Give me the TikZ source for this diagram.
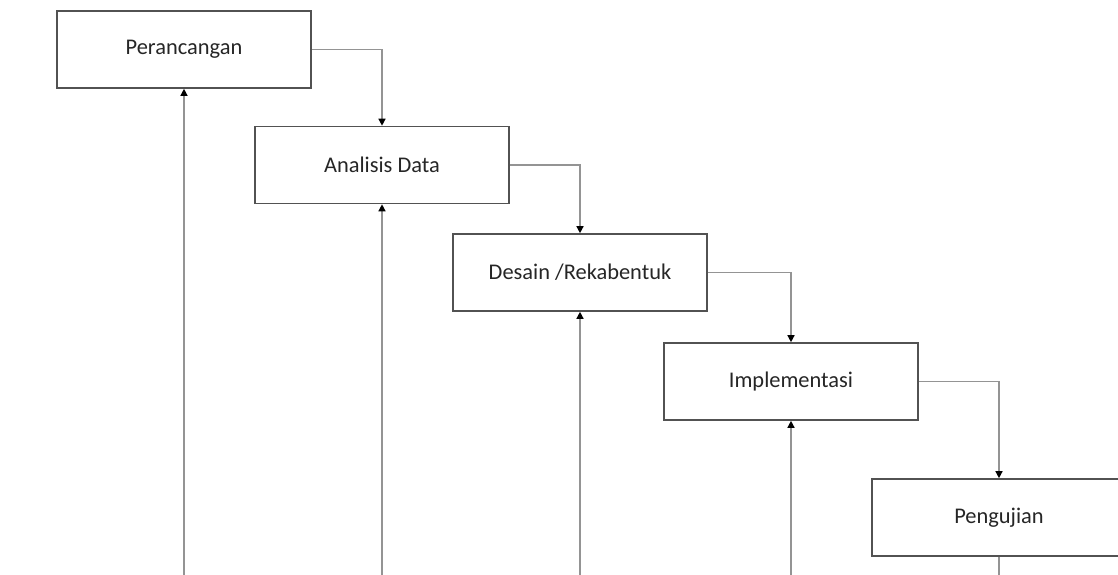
\documentclass[tikz,border=0pt]{standalone}
\usepackage{fontspec}
\setmainfont{Carlito}
\usetikzlibrary{positioning,arrows.meta}

\tikzset{
	phase/.style={draw=black!68,line width=1.6bp,fill=white,minimum width=254bp,minimum height=77bp,
		inner sep=0pt,font=\fontsize{22.5}{27}\selectfont,text=black!85},
	flow/.style={draw=black!42,line width=1.3bp,-{Triangle[length=7bp,width=7bp,color=black]}},
	plain/.style={draw=black!42,line width=1.3bp}
}

\begin{document}
\begin{tikzpicture}[x=1bp,y=-1bp]
		\useasboundingbox (0,0) rectangle (1118,575);
		\clip (0,0) rectangle (1118,575);
		% tahapan
		\node[phase] (per) at (184,49.5) {Perancangan};
		\node[phase] (ana) at (382,165) {Analisis Data};
		\node[phase] (des) at (580,272.5) {Desain /Rekabentuk};
		\node[phase] (imp) at (791,381.5) {Implementasi};
		\node[phase] (pen) at (999,517.5) {Pengujian};
		% ujung bawah
		\coordinate (b1) at (184,575);
		\coordinate (b2) at (382,575);
		\coordinate (b3) at (580,575);
		\coordinate (b4) at (791,575);
		\coordinate (b5) at (999,575);
		% alur turun
		\draw[flow] (per.east) -| (ana.north);
		\draw[flow] (ana.east) -| (des.north);
		\draw[flow] (des.east) -| (imp.north);
		\draw[flow] (imp.east) -| (pen.north);
		% umpan balik
		\draw[flow] (b1) -- (per.south);
		\draw[flow] (b2) -- (ana.south);
		\draw[flow] (b3) -- (des.south);
		\draw[flow] (b4) -- (imp.south);
		\draw[plain] (pen.south) -- (b5);
	\end{tikzpicture}
\end{document}
